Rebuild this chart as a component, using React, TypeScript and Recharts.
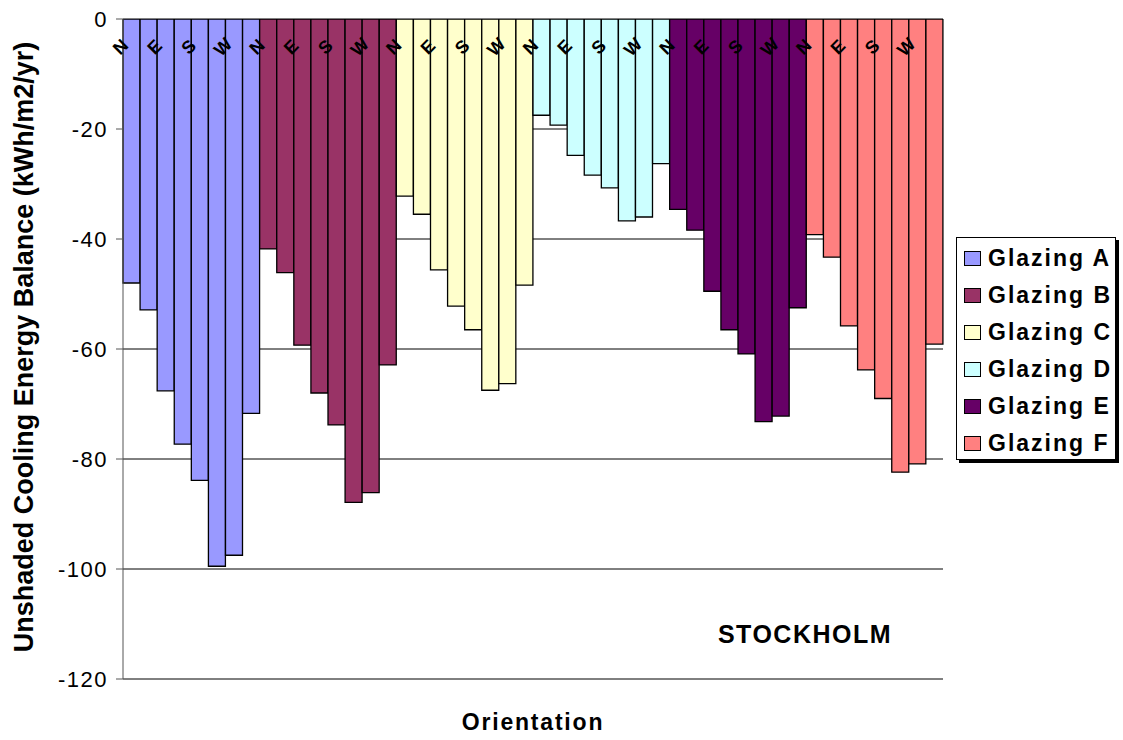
import { BarChart, Bar, Cell, XAxis, YAxis, CartesianGrid, LabelList } from "recharts"

const groups = ["Glazing A", "Glazing B", "Glazing C", "Glazing D", "Glazing E", "Glazing F"]
const groupColors = ["#9999FF", "#993366", "#FFFFCC", "#CCFFFF", "#660066", "#FF8080"]
const orientations = ["N", "NE", "E", "SE", "S", "SW", "W", "NW"]

const glazingA = [-48.0, -52.9, -67.6, -77.3, -83.9, -99.5, -97.5, -71.7]
const glazingB = [-41.8, -46.1, -59.3, -68.0, -73.8, -87.9, -86.1, -62.9]
const glazingC = [-32.2, -35.5, -45.6, -52.2, -56.5, -67.5, -66.3, -48.4]
const glazingD = [-17.5, -19.3, -24.8, -28.4, -30.7, -36.7, -36.0, -26.3]
const glazingE = [-34.6, -38.4, -49.5, -56.5, -60.9, -73.2, -72.2, -52.5]
const glazingF = [-39.2, -43.3, -55.8, -63.8, -69.0, -82.4, -80.9, -59.1]

const yTicks = [0, -20, -40, -60, -80, -100, -120]

const seriesList = [glazingA, glazingB, glazingC, glazingD, glazingE, glazingF]

// one row per bar, 48 in all
const data = seriesList.flatMap((vals, g) =>
  vals.map((v, i) => ({
    key: groups[g] + "-" + orientations[i],
    orient: orientations[i],
    group: g,
    value: v
  }))
)

const FONT = '"Liberation Sans", Arial, sans-serif'

// category labels sit inside the plot under the zero line, every second bar
const OrientLabel = (props: any) => {
  const { x, y, width, height, index, value } = props
  if (index % 2 !== 0) return null
  const top = Math.min(y, y + height)
  const cx = x + width / 2 - 11
  const cy = top + 28
  return (
    <text
      x={cx}
      y={cy}
      textAnchor="middle"
      dominantBaseline="central"
      fontFamily={FONT}
      fontWeight="bold"
      fontSize={18}
      fill="#000"
      transform={`rotate(-45 ${cx} ${cy})`}
    >
      {value}
    </text>
  )
}

export default function App() {
  return (
    <div
      style={{
        position: "absolute",
        left: 0,
        top: 0,
        width: 1123,
        height: 740,
        background: "#fff",
        fontFamily: FONT
      }}
    >
      <BarChart
        width={1123}
        height={740}
        data={data}
        margin={{ top: 19, right: 180, bottom: 61, left: 63 }}
        barCategoryGap={0}
        barGap={0}
      >
        <CartesianGrid
          vertical={false}
          horizontal={{ stroke: "#000", strokeWidth: 1, shapeRendering: "crispEdges" } as any}
          stroke="#000"
          strokeOpacity={1}
        />
        <YAxis
          domain={[-120, 0]}
          ticks={yTicks}
          width={60}
          tickSize={7}
          tickMargin={8}
          axisLine={{ stroke: "#555" }}
          tickLine={{ stroke: "#555" }}
          tick={{ fill: "#000", fontSize: 22, fontFamily: FONT, letterSpacing: 1.5 }}
          allowDataOverflow
        />
        <YAxis
          yAxisId="edge"
          orientation="right"
          domain={[-120, 0]}
          width={0}
          tick={false}
          tickLine={false}
          axisLine={{ stroke: "#888" }}
        />
        <XAxis
          dataKey="key"
          orientation="top"
          height={0}
          tick={false}
          tickLine={false}
          axisLine={{ stroke: "#888", strokeWidth: 1.5 }}
        />
        <Bar dataKey="value" stroke="#000" strokeWidth={1.3} isAnimationActive={false}>
          {data.map((d) => (
            <Cell key={d.key} fill={groupColors[d.group]} />
          ))}
          <LabelList dataKey="orient" content={<OrientLabel />} />
        </Bar>
      </BarChart>

      {/* axis titles and note */}
      <div
        style={{
          position: "absolute",
          left: 24,
          top: 347,
          transform: "translate(-50%, -50%) rotate(-90deg)",
          whiteSpace: "nowrap",
          fontWeight: "bold",
          fontSize: 27,
          color: "#000"
        }}
      >
        Unshaded Cooling Energy Balance (kWh/m2/yr)
      </div>
      <div
        style={{
          position: "absolute",
          left: 533,
          top: 722,
          transform: "translate(-50%, -50%)",
          whiteSpace: "nowrap",
          fontWeight: "bold",
          fontSize: 23,
          letterSpacing: 1.8,
          color: "#000"
        }}
      >
        Orientation
      </div>
      <div
        style={{
          position: "absolute",
          left: 805,
          top: 634,
          transform: "translate(-50%, -50%)",
          whiteSpace: "nowrap",
          fontWeight: "bold",
          fontSize: 25,
          letterSpacing: 1.5,
          color: "#000"
        }}
      >
        STOCKHOLM
      </div>

      {/* legend */}
      <div
        style={{
          position: "absolute",
          left: 956,
          top: 237,
          width: 160,
          height: 223,
          boxSizing: "border-box",
          border: "1px solid #000",
          boxShadow: "3px 3px 0 #000",
          background: "#fff",
          paddingTop: 2,
          paddingLeft: 7
        }}
      >
        {groups.map((g, i) => (
          <div key={g} style={{ height: 37, display: "flex", alignItems: "center" }}>
            <div
              style={{
                width: 17,
                height: 15,
                boxSizing: "border-box",
                border: "1px solid #000",
                background: groupColors[i],
                marginRight: 7
              }}
            />
            <span style={{ fontWeight: "bold", fontSize: 23, letterSpacing: 2, color: "#000", whiteSpace: "nowrap" }}>
              {g}
            </span>
          </div>
        ))}
      </div>
    </div>
  )
}
